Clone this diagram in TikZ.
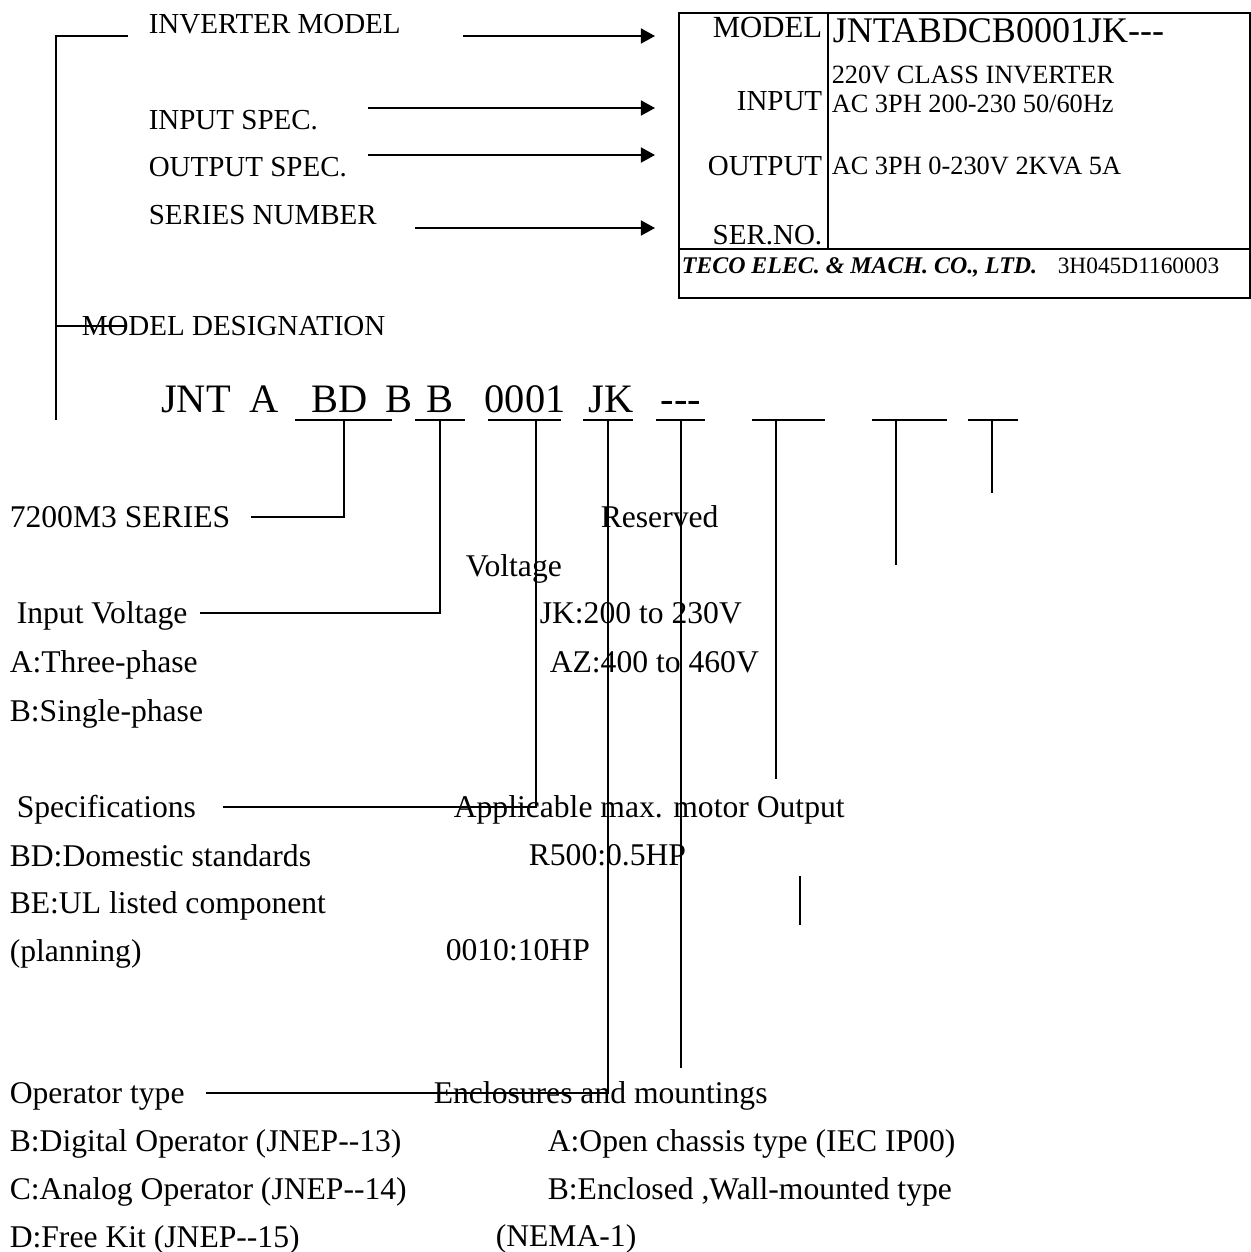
\documentclass[tikz,border=0pt]{standalone}
\usepackage{fontspec}
\setmainfont{Liberation Serif}
\usetikzlibrary{arrows.meta,calc}

\begin{document}
\begin{tikzpicture}[
  x=0.02cm, y=-0.02cm,
  line width=0.9pt,
  lbl/.style={anchor=west, inner sep=0pt, text height=11.9pt, text depth=0pt, font=\fontsize{18}{20}\selectfont},
  toplbl/.style={lbl, text height=10.9pt, font=\fontsize{16.5}{18}\selectfont},
  platelbl/.style={lbl, anchor=east, text height=10.9pt, font=\fontsize{16.5}{18}\selectfont},
  platetxt/.style={lbl, text height=9.9pt, font=\fontsize{15}{17}\selectfont},
  code/.style={anchor=base, inner sep=0pt, font=\fontsize{23}{26}\selectfont},
  arr/.style={-{Triangle[length=8pt, width=8.5pt]}, line width=1.1pt}
]
\useasboundingbox (0,0) rectangle (1251,1252);

% name plate
\coordinate (platenw) at (679,13);
\coordinate (platese) at (1250,298);
\draw (platenw) rectangle (platese);
\draw (828,13) -- (828,249);
\draw (679,249) -- (1250,249);

\node[platelbl, text height=11.6pt, font=\fontsize{17.5}{19}\selectfont] (pmodel) at (823,27) {MODEL};
\node[lbl, text height=13.6pt, font=\fontsize{20.5}{22}\selectfont] (pcode) at (832,31) {JNTABDCB0001JK-{}-{}-};
\node[platetxt] (pclass) at (831,75) {220V CLASS INVERTER};
\node[platelbl] (pinput) at (823,101) {INPUT};
\node[platetxt] (pin) at (831,104) {AC 3PH 200-230 50/60Hz};
\node[platelbl] (poutput) at (823,166) {OUTPUT};
\node[platetxt] (pout) at (831,166) {AC 3PH 0-230V 2KVA 5A};
\node[platelbl] (pser) at (823,235) {SER.NO.};
\node[lbl, text height=9pt, font=\fontsize{13.6}{15}\selectfont\bfseries\itshape] (pmaker) at (681,266) {TECO ELEC. \& MACH. CO., LTD.};
\node[lbl, text height=8.8pt, font=\fontsize{13.3}{15}\selectfont] (pno) at (1057,266) {3H045D1160003};

% what the plate shows
\node[toplbl] (invm) at (148,24) {INVERTER MODEL};
\node[toplbl] (inspec) at (148,120) {INPUT SPEC.};
\node[toplbl] (outspec) at (148,167) {OUTPUT SPEC.};
\node[toplbl] (sernum) at (148,215) {SERIES NUMBER};

\coordinate (frommodel) at (463,36);  \coordinate (tipmodel) at (655,36);
\coordinate (fromin) at (368,108);    \coordinate (tipin) at (655,108);
\coordinate (fromout) at (368,155);   \coordinate (tipout) at (655,155);
\coordinate (fromser) at (415,228);   \coordinate (tipser) at (655,228);
\draw[arr] (frommodel) -- (tipmodel);
\draw[arr] (fromin) -- (tipin);
\draw[arr] (fromout) -- (tipout);
\draw[arr] (fromser) -- (tipser);

% bracket on the left
\coordinate (brtop) at (128,36);
\coordinate (brbot) at (56,420);
\draw (brtop) -| (brbot);
\node[toplbl] (desg) at (81,326) {MODEL DESIGNATION};
\draw (brbot |- desg.west) -- ($(desg.west)+(45,0)$);

% model code
\foreach \t/\cx [count=\i] in {JNT/196, A/264, BD/340, B/399, B/440, 0001/525, JK/611}
  \node[code] (tok\i) at (\cx,412) {\t};
\node[code] (tok8) at (681,412) {-{}-{}-};

\foreach \a/\b/\c in {295/392/344, 415/465/440, 488/561/536, 583/633/608, 656/705/681, 752/825/776, 872/947/896, 968/1018/992} {
  \draw (\a,420) -- (\b,420);
  \coordinate (tick\c) at (\c,420);
}

% left column
\node[lbl] (series) at (9,517) {7200M3 SERIES};
\node[lbl] (involt) at (16,613) {Input Voltage};
\node[lbl] (threeph) at (9,662) {A:Three-phase};
\node[lbl] (singleph) at (9,711) {B:Single-phase};
\node[lbl] (spec) at (16,807) {Specifications};
\node[lbl] (specbd) at (9,856) {BD:Domestic standards};
\node[lbl] (specbe) at (9,903) {BE:UL listed component};
\node[lbl] (specpl) at (9,951) {(planning)};
\node[lbl] (optype) at (9,1093) {Operator type};
\node[lbl] (opb) at (9,1141) {B:Digital Operator (JNEP-{}-13)};
\node[lbl] (opc) at (9,1189) {C:Analog Operator (JNEP-{}-14)};
\node[lbl] (opd) at (9,1237) {D:Free Kit (JNEP-{}-15)};

% right column
\node[lbl] (reserved) at (600,517) {Reserved};
\node[lbl] (volt) at (465,566) {Voltage};
\node[lbl] (voltjk) at (539,613) {JK:200 to 230V};
\node[lbl] (voltaz) at (549,662) {AZ:400 to 460V};
\node[lbl] (motor) at (453,807) {Applicable max. motor Output};
\node[lbl] (motorlo) at (528,855) {R500:0.5HP};
\node[lbl] (motorhi) at (445,950) {0010:10HP};
\node[lbl] (encl) at (433,1093) {Enclosures and mountings};
\node[lbl] (encla) at (547,1141) {A:Open chassis type (IEC IP00)};
\node[lbl] (enclb) at (547,1189) {B:Enclosed ,Wall-mounted type};
\node[lbl] (enclnema) at (495,1236) {(NEMA-1)};

% connectors
\draw (tick344) |- ($(series.east)+(20,0)$);
\draw (tick440) |- ($(involt.east)+(12,0)$);
\draw (tick536) |- ($(spec.east)+(26,0)$);
\draw (tick608) |- ($(optype.east)+(21,0)$);

\coordinate (endencl) at (681,1068);
\coordinate (endmotor) at (776,779);
\coordinate (endvolt) at (896,565);
\coordinate (endres) at (992,493);
\draw (tick681) -- (endencl);
\draw (tick776) -- (endmotor);
\draw (tick896) -- (endvolt);
\draw (tick992) -- (endres);

\coordinate (dotstop) at (800,876);
\coordinate (dotsbot) at (800,925);
\draw (dotstop) -- (dotsbot);

\end{tikzpicture}
\end{document}
